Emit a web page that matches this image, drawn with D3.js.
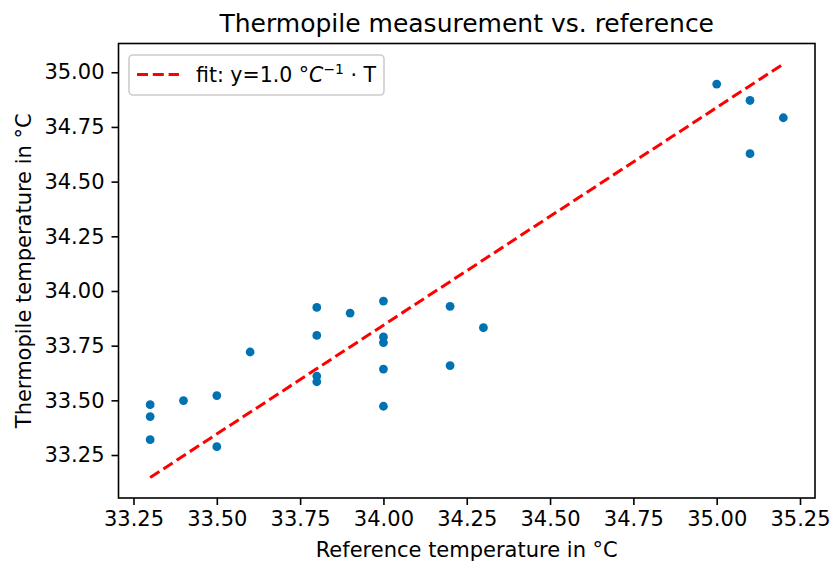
<!DOCTYPE html>
<html>
<head>
<meta charset="utf-8">
<script src="https://cdn.jsdelivr.net/npm/d3@7"></script>
<style>
  body { margin: 0; background: #fff; }
  svg { display: block; font-family: 'DejaVu Sans', sans-serif; }
</style>
</head>
<body>
<svg id="chart" width="830" height="563"></svg>
<script>
// reference temperature of each measurement
const refTemp = [
  33.3, 33.3, 33.3, 33.4, 33.5, 33.5, 33.6,
  33.8, 33.8, 33.8, 33.8, 33.9,
  34.0, 34.0, 34.0, 34.0, 34.0,
  34.2, 34.2, 34.3,
  35.0, 35.1, 35.1, 35.2
]
// thermopile temperature of each measurement
const thermoTemp = [
  33.480, 33.426, 33.320, 33.499, 33.522, 33.288, 33.721,
  33.925, 33.797, 33.611, 33.585, 33.899,
  33.954, 33.790, 33.764, 33.643, 33.473,
  33.930, 33.659, 33.832,
  34.946, 34.871, 34.628, 34.792
]
// fitted line end points
const fitX = [33.3, 35.2]
const fitY = [33.147, 35.038]
// tick values
const xTicks = [33.25, 33.5, 33.75, 34.0, 34.25, 34.5, 34.75, 35.0, 35.25]
const yTicks = [33.25, 33.5, 33.75, 34.0, 34.25, 34.5, 34.75, 35.0]

function makeScatter() {
  const svg = d3.select('#chart')
  // plot frame
  const frame = {left: 118.5, right: 815, top: 43.5, bottom: 498}

  // x scale with the 5% padding matplotlib uses
  const scaleX = d3.scaleLinear()
    .domain([33.205, 35.295])
    .range([frame.left, frame.right])
  // y scale
  const scaleY = d3.scaleLinear()
    .domain([33.0535, 35.1315])
    .range([frame.bottom, frame.top])

  // x axis
  const axisX = d3.axisBottom(scaleX)
    .tickValues(xTicks)
    .tickSize(7)
    .tickPadding(5)
    .tickFormat(d3.format('.2f'))
  const gx = svg.append('g')
    .attr('transform', `translate(0, ${frame.bottom})`)
    .call(axisX)
  // y axis
  const axisY = d3.axisLeft(scaleY)
    .tickValues(yTicks)
    .tickSize(7)
    .tickPadding(7)
    .tickFormat(d3.format('.2f'))
  const gy = svg.append('g')
    .attr('transform', `translate(${frame.left}, 0)`)
    .call(axisY)

  // axis styling
  svg.selectAll('.domain').remove()
  svg.selectAll('.tick line').attr('stroke', '#000').attr('stroke-width', 1.6)
  svg.selectAll('.tick text')
    .attr('fill', '#000')
    .style('font-size', '21px')
    .style('font-family', "'DejaVu Sans', sans-serif")
  gx.selectAll('.tick text').attr('dy', '0.74em')

  // fit line (dashed red)
  const line = d3.line()
    .x(d => scaleX(d[0]))
    .y(d => scaleY(d[1]))
  svg.append('path')
    .datum(d3.zip(fitX, fitY))
    .attr('d', line)
    .attr('fill', 'none')
    .attr('stroke', '#ff0000')
    .attr('stroke-width', 3)
    .attr('stroke-dasharray', '11 4.8')

  // measurement points
  svg.append('g')
    .selectAll('circle')
    .data(d3.zip(refTemp, thermoTemp))
    .enter()
    .append('circle')
    .attr('cx', d => scaleX(d[0]))
    .attr('cy', d => scaleY(d[1]))
    .attr('r', 4.4)
    .attr('fill', '#0072b2')

  // frame around plot
  svg.append('rect')
    .attr('x', frame.left)
    .attr('y', frame.top)
    .attr('width', frame.right - frame.left)
    .attr('height', frame.bottom - frame.top)
    .attr('fill', 'none')
    .attr('stroke', '#000')
    .attr('stroke-width', 1.6)

  // title
  svg.append('text')
    .attr('x', (frame.left + frame.right) / 2)
    .attr('y', 31.5)
    .attr('text-anchor', 'middle')
    .style('font-size', '25px')
    .text('Thermopile measurement vs. reference')
  // x label
  svg.append('text')
    .attr('x', (frame.left + frame.right) / 2)
    .attr('y', 557)
    .attr('text-anchor', 'middle')
    .style('font-size', '21px')
    .text('Reference temperature in °C')
  // y label
  svg.append('text')
    .attr('transform', `translate(31, ${(frame.top + frame.bottom) / 2}) rotate(-90)`)
    .attr('text-anchor', 'middle')
    .style('font-size', '21px')
    .text('Thermopile temperature in °C')

  // legend
  const legend = svg.append('g')
  legend.append('rect')
    .attr('x', 129)
    .attr('y', 55)
    .attr('width', 255)
    .attr('height', 40)
    .attr('rx', 4)
    .attr('fill', '#fff')
    .attr('fill-opacity', 0.8)
    .attr('stroke', '#cccccc')
    .attr('stroke-width', 1.6)
  legend.append('line')
    .attr('x1', 137)
    .attr('x2', 179)
    .attr('y1', 74.5)
    .attr('y2', 74.5)
    .attr('stroke', '#ff0000')
    .attr('stroke-width', 3)
    .attr('stroke-dasharray', '11 4.8')
  const label = legend.append('text')
    .attr('x', 196)
    .attr('y', 82)
    .style('font-size', '20.5px')
  label.append('tspan').text('fit: y=1.0 °')
  label.append('tspan').style('font-style', 'oblique').text('C')
  label.append('tspan').attr('dy', -8).style('font-size', '14px').text('−1')
  label.append('tspan').attr('dy', 8).text(' · T')
}

window.onload = makeScatter
</script>
</body>
</html>
